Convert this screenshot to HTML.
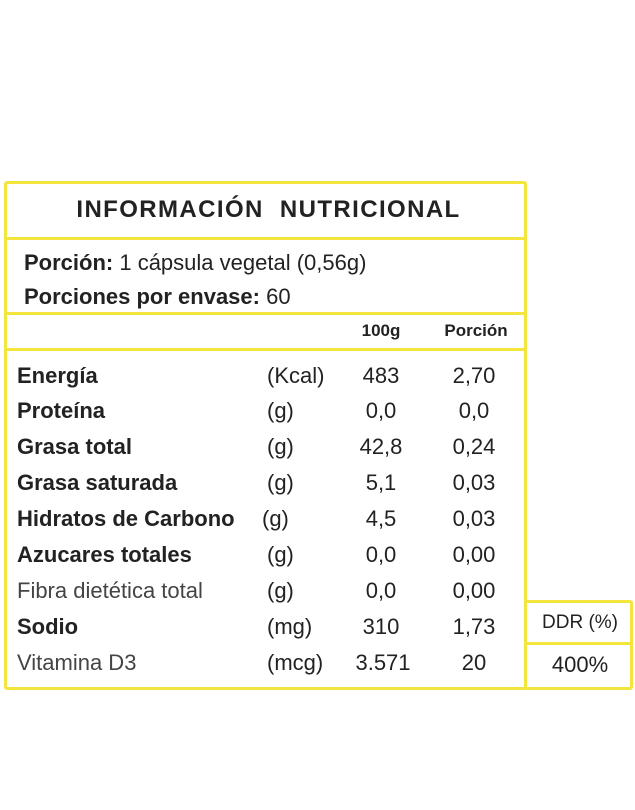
<!DOCTYPE html>
<html><head><meta charset="utf-8"><style>
body{margin:0;width:635px;height:810px;background:#fff;position:relative;font-family:"Liberation Sans",sans-serif;color:#222;overflow:hidden}
.a{position:absolute;white-space:nowrap}
.ln{position:absolute;background:#f3e53c}
.r{position:absolute;font-size:22px;line-height:26px;white-space:nowrap}
.c{transform:translateX(-50%)}
b{font-weight:bold}
</style></head><body>
<div class="a" style="left:4px;top:181px;width:517px;height:503px;border:3px solid #f3e53c;border-radius:3px"></div>
<div class="ln" style="left:4px;top:237px;width:523px;height:3px"></div>
<div class="ln" style="left:4px;top:312px;width:523px;height:3px"></div>
<div class="ln" style="left:4px;top:348px;width:523px;height:3px"></div>
<div class="a" style="left:524px;top:600px;width:103px;height:84px;border:3px solid #f3e53c;border-radius:3px"></div>
<div class="ln" style="left:524px;top:642px;width:109px;height:3px"></div>

<div class="a" style="left:0;width:537px;top:196px;text-align:center;font-size:24px;font-weight:bold;letter-spacing:1.4px">INFORMACIÓN&nbsp; NUTRICIONAL</div>
<div class="r" style="left:24px;top:250px"><b>Porción:</b> 1 cápsula vegetal (0,56g)</div>
<div class="r" style="left:24px;top:284px"><b>Porciones por envase:</b> 60</div>
<div class="a c" style="left:381px;top:321px;font-size:17px;font-weight:bold">100g</div>
<div class="a c" style="left:476px;top:321px;font-size:17px;font-weight:bold">Porción</div>

<div class="r" style="left:17px;top:363px"><b>Energía</b></div><div class="r" style="left:267px;top:363px">(Kcal)</div><div class="r c" style="left:381px;top:363px">483</div><div class="r c" style="left:474px;top:363px">2,70</div>
<div class="r" style="left:17px;top:398px"><b>Proteína</b></div><div class="r" style="left:267px;top:398px">(g)</div><div class="r c" style="left:381px;top:398px">0,0</div><div class="r c" style="left:474px;top:398px">0,0</div>
<div class="r" style="left:17px;top:434px"><b>Grasa total</b></div><div class="r" style="left:267px;top:434px">(g)</div><div class="r c" style="left:381px;top:434px">42,8</div><div class="r c" style="left:474px;top:434px">0,24</div>
<div class="r" style="left:17px;top:470px"><b>Grasa saturada</b></div><div class="r" style="left:267px;top:470px">(g)</div><div class="r c" style="left:381px;top:470px">5,1</div><div class="r c" style="left:474px;top:470px">0,03</div>
<div class="r" style="left:17px;top:506px"><b>Hidratos de Carbono</b></div><div class="r" style="left:262px;top:506px">(g)</div><div class="r c" style="left:381px;top:506px">4,5</div><div class="r c" style="left:474px;top:506px">0,03</div>
<div class="r" style="left:17px;top:542px"><b>Azucares totales</b></div><div class="r" style="left:267px;top:542px">(g)</div><div class="r c" style="left:381px;top:542px">0,0</div><div class="r c" style="left:474px;top:542px">0,00</div>
<div class="r" style="left:17px;top:578px;color:#444">Fibra dietética total</div><div class="r" style="left:267px;top:578px">(g)</div><div class="r c" style="left:381px;top:578px">0,0</div><div class="r c" style="left:474px;top:578px">0,00</div>
<div class="r" style="left:17px;top:614px"><b>Sodio</b></div><div class="r" style="left:267px;top:614px">(mg)</div><div class="r c" style="left:381px;top:614px">310</div><div class="r c" style="left:474px;top:614px">1,73</div>
<div class="r" style="left:17px;top:650px;color:#444">Vitamina D3</div><div class="r" style="left:267px;top:650px">(mcg)</div><div class="r c" style="left:383px;top:650px">3.571</div><div class="r c" style="left:474px;top:650px">20</div>
<div class="a c" style="left:580px;top:612px;font-size:19px">DDR (%)</div>
<div class="r c" style="left:580px;top:652px">400%</div>
</body></html>
